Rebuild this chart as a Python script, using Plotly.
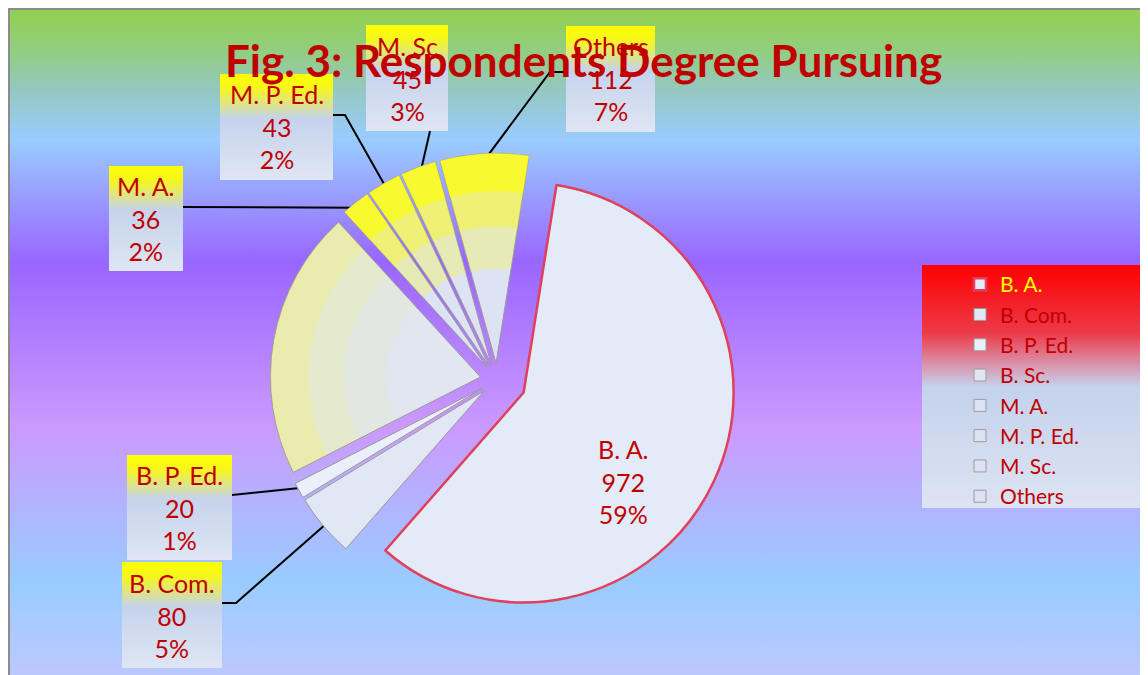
import base64
import math
import plotly.graph_objects as go

# data
degrees = ["B. A.", "B. Com.", "B. P. Ed.", "B. Sc.", "M. A.", "M. P. Ed.", "M. Sc.", "Others"]
respondents = [972, 80, 20, 341, 36, 43, 45, 112]
box_names = ["B. A.", "B. Com.", "B. P. Ed.", "", "M. A.", "M. P. Ed.", "M. Sc", "Others"]
pct_labels = ["59%", "5%", "1%", "", "2%", "2%", "3%", "7%"]

W, H = 1148, 675
OFF = 8                         # page body margin, figure starts at (8, 8)
CX, CY, R = 497, 380, 210       # pie centre / radius in page pixels
ROT = 9
pulls = [0.14, 0.08, 0.08, 0.08, 0.08, 0.08, 0.08, 0.08]
RED = "#C00000"
FONT = "Lato"

# label boxes (page pixels) and leader line anchors
boxes = {
    "B. A.": (589, 429, 656, 534),
    "B. Com.": (122, 562, 222, 668),
    "B. P. Ed.": (127, 455, 232, 560),
    "M. A.": (109, 166, 183, 271),
    "M. P. Ed.": (220, 74, 333, 180),
    "M. Sc": (366, 25, 448, 131),
    "Others": (566, 26, 655, 132),
}
leaders = {
    "B. Com.": [(222, 603), (236, 603)],
    "B. P. Ed.": [(232, 495)],
    "M. A.": [(183, 207)],
    "M. P. Ed.": [(333, 115), (345, 115)],
    "M. Sc": [(430, 131)],
    "Others": [(566, 72), (550, 72)],
}
LEG_BOX = (922, 265, 1148, 508)


def px(x, y):
    return (x - OFF) / W, 1 - (y - OFF) / H


half = R * (1 + max(pulls))
dom = dict(x=[(CX - OFF - half) / W, (CX - OFF + half) / W],
           y=[1 - (CY - OFF + half) / H, 1 - (CY - OFF - half) / H])


def slice_point(i, frac):
    total = sum(respondents)
    before = sum(respondents[:i])
    a = math.radians(ROT + 360 * (before + respondents[i] / 2) / total)
    cx = CX + pulls[i] * R * math.sin(a)
    cy = CY - pulls[i] * R * math.cos(a)
    return cx + frac * R * math.sin(a), cy - frac * R * math.cos(a)


def gradient(gid, stops):
    s = "".join(f'<stop offset="{o}" stop-color="{c}"/>' for o, c in stops)
    return f'<linearGradient id="{gid}" x1="0" y1="0" x2="0" y2="1">{s}</linearGradient>'


def rect(box, fill):
    x0, y0, x1, y1 = box
    return f'<rect x="{x0 - OFF}" y="{y0 - OFF}" width="{x1 - x0}" height="{y1 - y0}" fill="{fill}"/>'


# background, label boxes and legend box as one gradient svg
defs = [
    gradient("bg", [(0, "#92D050"), (0.06, "#92CE7C"), (0.12, "#95C8C0"), (0.195, "#99CCFF"),
                    (0.376, "#9966FF"), (0.62, "#CC99FF"), (0.85, "#99CCFF"), (1, "#BFC8FF")]),
    gradient("box", [(0, "#FFFF00"), (0.14, "#F6F620"), (0.42, "#C6D3EC"), (1, "#DFE6F4")]),
    gradient("leg", [(0, "#FF0000"), (0.28, "#EC3A48"), (0.42, "#D89AB4"), (0.5, "#C4D2EC"), (1, "#DDE4F3")]),
]
body = [
    f'<rect width="{W}" height="{H}" fill="url(#bg)"/>',
    f'<path d="M1,{H} V1 H{W}" stroke="#8C8C8C" stroke-width="2" fill="none"/>',
]
body += [rect(b, "url(#box)") for b in boxes.values()]
body.append(rect(LEG_BOX, "url(#leg)"))
svg = (f'<svg xmlns="http://www.w3.org/2000/svg" width="{W}" height="{H}" viewBox="0 0 {W} {H}">'
       f'<defs>{"".join(defs)}</defs>{"".join(body)}</svg>')
bg_uri = "data:image/svg+xml;base64," + base64.b64encode(svg.encode()).decode()

slice_colors = ["#E4EBF8", "#E1E7F5", "#EAEFF9", "#E2E6F0", "#DDE3F3", "#DDE3F3", "#DDE3F3", "#DDE3F3"]
line_colors = ["#E0405A"] + ["#9A9A9A"] * 7
line_widths = [2.5] + [1] * 7
legend_labels = [f'<span style="color:#FFFF00">{d}</span>' if i == 0 else d for i, d in enumerate(degrees)]

fig = go.Figure()
fig.add_trace(go.Pie(
    labels=legend_labels, values=respondents, sort=False, direction="clockwise", rotation=ROT,
    pull=pulls, domain=dom, textinfo="none", hoverinfo="label+value+percent",
    marker=dict(colors=slice_colors, line=dict(color=line_colors, width=line_widths)),
))

# yellow tint on the outer part of the upper slices
ring_alpha = {0.45: 0.25, 0.65: 0.35, 0.82: 0.6}
tint = [0, 0, 0, 0.25, 1, 1, 1, 1]
for hole, a in ring_alpha.items():
    fig.add_trace(go.Pie(
        labels=legend_labels, values=respondents, sort=False, direction="clockwise", rotation=ROT,
        pull=pulls, domain=dom, hole=hole, textinfo="none", hoverinfo="skip", showlegend=False,
        marker=dict(colors=[f"rgba(255,255,0,{a * t:.3f})" for t in tint], line=dict(width=0)),
    ))

shapes = []
for i, name in enumerate(box_names):
    if name not in leaders:
        continue
    pts = leaders[name] + [slice_point(i, 0.97)]
    path = "M " + " L ".join("{:.5f},{:.5f}".format(*px(x, y)) for x, y in pts)
    shapes.append(dict(type="path", path=path, xref="paper", yref="paper",
                       line=dict(color="black", width=2), layer="below"))

annotations = []
for i, name in enumerate(box_names):
    if not name:
        continue
    x0, y0, x1, y1 = boxes[name]
    ax, ay = px((x0 + x1) / 2, (y0 + y1) / 2)
    annotations.append(dict(x=ax, y=ay, xref="paper", yref="paper", showarrow=False,
                            xanchor="center", yanchor="middle",
                            text=f"{name}<br>{respondents[i]}<br>{pct_labels[i]}",
                            font=dict(family=FONT, size=25, color=RED)))
tx, ty = px(583, 60)
annotations.append(dict(x=tx, y=ty, xref="paper", yref="paper", showarrow=False,
                        xanchor="center", yanchor="middle",
                        text="<b>Fig. 3: Respondents Degree Pursuing</b>",
                        font=dict(family=FONT, size=44, color=RED)))

lx, ly = px(960, 264)
fig.update_layout(
    width=W, height=H, margin=dict(l=0, r=0, t=0, b=0), paper_bgcolor="white",
    images=[dict(source=bg_uri, xref="paper", yref="paper", x=0, y=1, sizex=1, sizey=1,
                 xanchor="left", yanchor="top", sizing="stretch", layer="below")],
    shapes=shapes, annotations=annotations,
    legend=dict(x=lx, y=ly, xanchor="left", yanchor="top", bgcolor="rgba(0,0,0,0)",
                font=dict(family=FONT, size=21, color=RED)),
)

fig.write_html("out.html")
